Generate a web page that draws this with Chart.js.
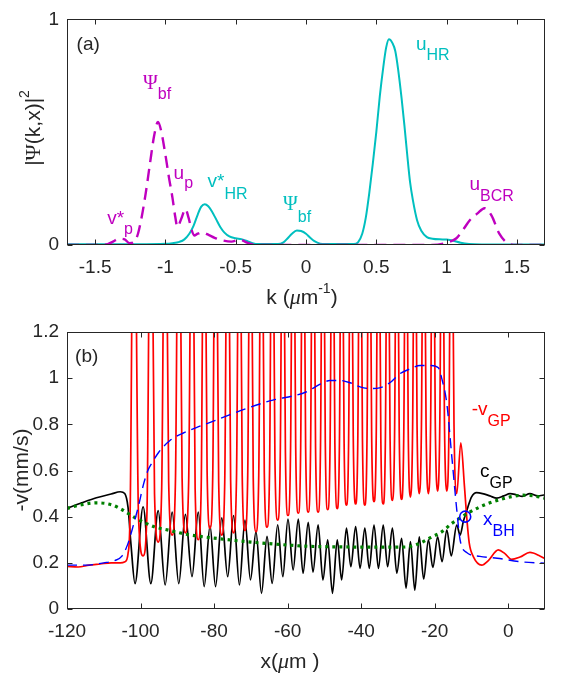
<!DOCTYPE html>
<html lang="en">
<head>
    <meta charset="UTF-8">
    <title>Momentum spectra and velocity profiles</title>
    <style>
        html, body { margin: 0; padding: 0; background: #fff; }
        #wrap { position: relative; width: 563px; height: 673px; }
        canvas { position: absolute; left: 0; }
        #chartA { top: 0; }
        #chartB { top: 310px; }
    </style>
    <script src="https://cdn.jsdelivr.net/npm/chart.js"></script>
</head>
<body>
<div id="wrap">
    <canvas id="chartA" width="563" height="310"></canvas>
    <canvas id="chartB" width="563" height="363"></canvas>
</div>

<script>
// ---- panel (a): |Psi(k,x)|^2 versus k ----
const kTicks = [-1.5, -1, -0.5, 0, 0.5, 1, 1.5];
const psiTicks = [0, 1];

const cyanK = [-1.7, -1.2, -1.0, -0.95, -0.9, -0.865, -0.83, -0.8, -0.77, -0.745,
    -0.72, -0.695, -0.67, -0.64, -0.61, -0.58, -0.545, -0.5, -0.46, -0.42,
    -0.38, -0.34, -0.2, -0.16, -0.13, -0.1, -0.065, -0.035, 0, 0.03,
    0.06, 0.1, 0.14, 0.34, 0.37, 0.4, 0.425, 0.45, 0.475, 0.5,
    0.525, 0.55, 0.57, 0.59, 0.615, 0.635, 0.655, 0.68, 0.7, 0.72,
    0.74, 0.76, 0.79, 0.82, 0.86, 0.9, 0.95, 1.0, 1.05, 1.1,
    1.16, 1.25, 1.7];
const cyanPsi = [0.003, 0.003, 0.005, 0.008, 0.014, 0.025, 0.05, 0.085, 0.135, 0.17,
    0.181, 0.172, 0.15, 0.115, 0.08, 0.055, 0.038, 0.03, 0.026, 0.018,
    0.008, 0.004, 0.004, 0.012, 0.03, 0.05, 0.064, 0.062, 0.05, 0.032,
    0.017, 0.006, 0.004, 0.004, 0.012, 0.05, 0.12, 0.23, 0.36, 0.5,
    0.66, 0.79, 0.875, 0.912, 0.895, 0.86, 0.78, 0.65, 0.53, 0.4,
    0.28, 0.2, 0.11, 0.063, 0.035, 0.028, 0.025, 0.024, 0.019, 0.01,
    0.004, 0.002, 0.002];

const magK = [-1.7, -1.45, -1.41, -1.37, -1.33, -1.29, -1.255, -1.22, -1.195, -1.17,
    -1.14, -1.11, -1.08, -1.053, -1.03, -1.0, -0.975, -0.95, -0.93, -0.915,
    -0.885, -0.858, -0.835, -0.815, -0.795, -0.77, -0.74, -0.69, -0.65, -0.59,
    -0.53, -0.47, -0.42, -0.38, -0.3, 0.9, 1.0, 1.07, 1.12, 1.165,
    1.22, 1.27, 1.32, 1.375, 1.435, 1.5, 1.7];
const magPsi = [0, 0, 0.004, 0.016, 0.028, 0.025, 0.008, 0.015, 0.05, 0.12,
    0.23, 0.36, 0.485, 0.545, 0.505, 0.4, 0.3, 0.21, 0.125, 0.08,
    0.12, 0.16, 0.12, 0.07, 0.042, 0.05, 0.056, 0.044, 0.032, 0.02,
    0.015, 0.024, 0.01, 0.003, 0, 0, 0.01, 0.03, 0.07, 0.11,
    0.14, 0.163, 0.13, 0.05, 0.008, 0, 0];

// ---- panel (b): velocities versus x ----
const xTicks = [-120, -100, -80, -60, -40, -20, 0];
const vTicks = [0, 0.2, 0.4, 0.6, 0.8, 1, 1.2];

// -v_GP (red): flat lead-in, then per cycle: spike, flank, trough, flank; then tail
const redX = [-120, -117, -114, -111, -108, -105.5, -104.2, -103.4, -102.8,
    -101.8, -100.55, -99.3, -98.25,
    -97.2, -96.2, -95.2, -94.25,
    -93.3, -92.35, -91.4, -90.5,
    -89.6, -88.7, -87.8, -86.9,
    -86.0, -85.15, -84.3, -83.5,
    -82.7, -81.9, -81.1, -80.35,
    -79.6, -78.75, -77.9, -77.1,
    -76.3, -75.5, -74.7, -73.9,
    -73.1, -72.35, -71.6, -70.85,
    -70.1, -69.35, -68.6, -67.85,
    -67.1, -66.35, -65.6, -64.9,
    -64.2, -63.45, -62.7, -62.0,
    -61.3, -60.6, -59.9, -59.2,
    -58.5, -57.8, -57.1, -56.45,
    -55.8, -55.1, -54.4, -53.75,
    -53.1, -52.4, -51.7, -51.05,
    -50.4, -49.75, -49.1, -48.45,
    -47.8, -47.15, -46.5, -45.9,
    -45.3, -44.65, -44.0, -43.4,
    -42.8, -42.15, -41.5, -40.9,
    -40.3, -39.65, -39.0, -38.4,
    -37.8, -37.15, -36.5, -35.9,
    -35.3, -34.65, -34.0, -33.4,
    -32.8, -32.15, -31.5, -30.9,
    -30.3, -29.65, -29.0, -28.4,
    -27.8, -27.2, -26.6, -26.0,
    -25.4, -24.8, -24.2, -23.6,
    -23.0, -22.35, -21.7, -21.1,
    -20.5, -19.85, -19.2, -18.6,
    -18.0, -17.35, -16.7, -16.1,
    -15.5, -14.75, -14.0,
    -12.9, -11.9, -11.3, -10.6, -9.5, -7.2, -5.4, -2.7, -0.9, 0.9, 3.2, 5.9, 8.6, 10];
const redV = [0.185, 0.182, 0.19, 0.195, 0.2, 0.2, 0.205, 0.24, 0.45,
    2.2, 0.4, 0.23, 0.42,
    2.2, 0.5, 0.29, 0.52,
    2.2, 0.55, 0.32, 0.56,
    2.2, 0.57, 0.33, 0.56,
    2.2, 0.52, 0.30, 0.53,
    2.2, 0.6, 0.35, 0.59,
    2.2, 0.55, 0.32, 0.55,
    2.2, 0.56, 0.33, 0.57,
    2.2, 0.58, 0.34, 0.58,
    2.2, 0.57, 0.335, 0.58,
    2.2, 0.6, 0.355, 0.61,
    2.2, 0.65, 0.385, 0.66,
    2.2, 0.68, 0.405, 0.69,
    2.2, 0.7, 0.415, 0.7,
    2.2, 0.7, 0.42, 0.7,
    2.2, 0.7, 0.42, 0.71,
    2.2, 0.72, 0.43, 0.72,
    2.2, 0.72, 0.435, 0.73,
    2.2, 0.74, 0.45, 0.74,
    2.2, 0.75, 0.455, 0.75,
    2.2, 0.74, 0.45, 0.75,
    2.2, 0.76, 0.465, 0.75,
    2.2, 0.74, 0.455, 0.75,
    2.2, 0.76, 0.47, 0.77,
    2.2, 0.77, 0.475, 0.77,
    2.2, 0.78, 0.485, 0.79,
    2.2, 0.8, 0.5, 0.8,
    2.2, 0.8, 0.5, 0.81,
    2.2, 0.82, 0.51, 0.82,
    2.2, 0.82, 0.51, 0.81,
    2.2, 0.8, 0.5,
    0.72, 0.53, 0.4, 0.285, 0.227, 0.19, 0.21, 0.256, 0.24, 0.215, 0.225, 0.245, 0.23, 0.218];

// c_GP (black): lead-in, then trough / peak pairs, then tail
const blackX = [-120, -116, -112, -108, -105.5, -104.3, -103.4, -102.6,
    -101.5, -99.3, -97.2, -95.2, -93.3, -91.4, -89.6, -87.8, -86.0, -84.3,
    -82.7, -81.1, -79.6, -77.9, -76.3, -74.7, -73.1, -71.6, -70.1, -68.6,
    -67.1, -65.6, -64.2, -62.7, -61.3, -59.9, -58.5, -57.1, -55.8, -54.4,
    -53.1, -51.7, -50.4, -49.1, -47.8, -46.5, -45.3, -44.0, -42.8, -41.5,
    -40.3, -39.0, -37.8, -36.5, -35.3, -34.0, -32.8, -31.5, -30.3, -29.0,
    -27.8, -26.6, -25.4, -24.2, -23.0, -21.7, -20.5, -19.2, -18.0, -16.7,
    -15.5, -14.0,
    -13.1, -12.2, -11.0, -10.0, -8.6, -7.0, -5.0, -3.1, -1.2, 0.5, 2.2, 3.8, 5.9, 8.0, 10];
const blackV = [0.436, 0.46, 0.482, 0.498, 0.508, 0.5, 0.44, 0.28,
    0.11, 0.443, 0.11, 0.426, 0.104, 0.42, 0.11, 0.41, 0.14, 0.42,
    0.097, 0.36, 0.097, 0.395, 0.14, 0.405, 0.104, 0.385, 0.126, 0.335,
    0.068, 0.315, 0.111, 0.365, 0.14, 0.39, 0.169, 0.39, 0.155, 0.375,
    0.16, 0.365, 0.126, 0.3, 0.068, 0.3, 0.126, 0.35, 0.183, 0.357,
    0.176, 0.35, 0.176, 0.364, 0.176, 0.364, 0.183, 0.35, 0.155, 0.306,
    0.09, 0.292, 0.082, 0.313, 0.13, 0.3, 0.18, 0.313, 0.205, 0.342,
    0.23, 0.364,
    0.32, 0.38, 0.44, 0.485, 0.504, 0.5, 0.49, 0.48, 0.49, 0.5, 0.495, 0.488, 0.5, 0.49, 0.495];

// blue dashed
const blueX = [-120, -115, -110, -107, -105, -103.5, -102, -100.5, -99.2, -98,
    -97, -95, -92, -88, -85, -80, -76, -70, -64, -58,
    -55, -51, -48.5, -45.8, -43, -40.3, -37.6, -35, -32.2, -29.4,
    -26.7, -24, -21, -19, -18.1, -16.7, -15.4, -14, -13.1, -11.3,
    -7.7, -3, 3.2, 10];
const blueV = [0.19, 0.19, 0.2, 0.21, 0.23, 0.28, 0.36, 0.45, 0.54, 0.6,
    0.63, 0.68, 0.73, 0.765, 0.785, 0.815, 0.84, 0.875, 0.905, 0.925,
    0.94, 0.975, 0.99, 0.99, 0.98, 0.962, 0.955, 0.958, 0.98, 1.02,
    1.04, 1.055, 1.055, 1.045, 1.0, 0.89, 0.67, 0.43, 0.3, 0.245,
    0.228, 0.22, 0.205, 0.198];

// green dotted
const greenX = [-120, -116, -112, -108, -105, -102, -99, -96, -92, -88,
    -84, -80, -75, -70, -65, -60, -55, -50, -45, -40,
    -35, -30, -27, -24, -21, -18, -15.4, -13, -11, -8,
    -5, -2, 1, 4, 7, 10];
const greenV = [0.436, 0.452, 0.46, 0.452, 0.43, 0.4, 0.375, 0.355, 0.34, 0.325,
    0.315, 0.307, 0.298, 0.29, 0.283, 0.277, 0.272, 0.27, 0.269, 0.268,
    0.268, 0.268, 0.27, 0.285, 0.31, 0.335, 0.37, 0.395, 0.415, 0.44,
    0.46, 0.475, 0.487, 0.493, 0.49, 0.48];

// horizon marker x_BH
const bhX = [-11.7];
const bhV = [0.4];

// ---- styling helpers ----
const SANS = '"Liberation Sans", Arial, Helvetica, sans-serif';
const SERIF = '"Liberation Serif", "Times New Roman", serif';
const INK = '#262626';
const CYAN = '#00BFBF', MAG = '#BF00BF';
const MAIN = '19px ' + SANS, SUB = '16px ' + SANS, PSI = '20px ' + SERIF;
const TITLE = '21px ' + SANS, SUP = '14px ' + SANS, MU = 'italic 22px ' + SERIF;

function zip(xs, ys) {
    return xs.map((x, i) => ({ x: x, y: ys[i] }));
}

function runText(ctx, x, y, parts) {
    let cx = x;
    parts.forEach(p => {
        ctx.font = p.f;
        ctx.fillStyle = p.c || INK;
        ctx.fillText(p.t, cx, y + (p.dy || 0));
        cx += ctx.measureText(p.t).width;
    });
}

function textWidth(ctx, parts) {
    let w = 0;
    parts.forEach(p => { ctx.font = p.f; w += ctx.measureText(p.t).width; });
    return w;
}

// frame, inward ticks, annotations and axis titles (MATLAB look)
function decor(notes, titles) {
    return {
        id: 'decor',
        afterDraw(chart) {
            const { ctx, chartArea: a, scales } = chart;
            const L = Math.round(a.left) + 0.5, R = Math.round(a.right) - 0.5;
            const T = Math.round(a.top) + 0.5, B = Math.round(a.bottom) - 0.5;
            ctx.save();
            ctx.strokeStyle = INK;
            ctx.lineWidth = 1;
            ctx.strokeRect(L, T, R - L, B - T);
            ctx.beginPath();
            scales.x.ticks.forEach(t => {
                const px = Math.round(scales.x.getPixelForValue(t.value)) + 0.5;
                ctx.moveTo(px, B); ctx.lineTo(px, B - 5);
                ctx.moveTo(px, T); ctx.lineTo(px, T + 5);
            });
            scales.y.ticks.forEach(t => {
                const py = Math.round(scales.y.getPixelForValue(t.value)) + 0.5;
                ctx.moveTo(L, py); ctx.lineTo(L + 5, py);
                ctx.moveTo(R, py); ctx.lineTo(R - 5, py);
            });
            ctx.stroke();

            ctx.textBaseline = 'alphabetic';
            ctx.textAlign = 'left';
            notes.forEach(n => {
                runText(ctx, scales.x.getPixelForValue(n.x), scales.y.getPixelForValue(n.y), n.parts);
            });

            titles.forEach(tl => {
                const w = textWidth(ctx, tl.parts);
                ctx.save();
                ctx.translate(tl.cx, tl.cy);
                if (tl.rotate) ctx.rotate(-Math.PI / 2);
                ctx.textBaseline = 'middle';
                runText(ctx, -w / 2, 0, tl.parts);
                ctx.restore();
            });
            ctx.restore();
        }
    };
}

function axes(xmin, xmax, xt, ymin, ymax, yt, yWidth, xHeight) {
    const tickFont = { family: SANS, size: 19 };
    return {
        x: {
            type: 'linear', min: xmin, max: xmax,
            grid: { display: false, drawTicks: false }, border: { display: false },
            afterBuildTicks: s => { s.ticks = xt.map(v => ({ value: v })); },
            afterFit: s => { s.height = xHeight; },
            ticks: { color: INK, font: tickFont, padding: 11, maxRotation: 0, callback: v => String(v) }
        },
        y: {
            type: 'linear', min: ymin, max: ymax,
            grid: { display: false, drawTicks: false }, border: { display: false },
            afterBuildTicks: s => { s.ticks = yt.map(v => ({ value: v })); },
            afterFit: s => { s.width = yWidth; },
            ticks: { color: INK, font: tickFont, padding: 8, callback: v => String(v) }
        }
    };
}

const lineBase = { pointRadius: 0, cubicInterpolationMode: 'monotone', fill: false, clip: 0 };

// ---- chart (a) ----
new Chart(document.getElementById('chartA'), {
    type: 'line',
    data: {
        datasets: [
            Object.assign({ data: zip(magK, magPsi), borderColor: MAG, borderWidth: 2.4,
                borderDash: [12, 7] }, lineBase),
            Object.assign({ data: zip(cyanK, cyanPsi), borderColor: CYAN, borderWidth: 2 }, lineBase)
        ]
    },
    options: {
        responsive: false, animation: false, events: [],
        layout: { padding: { left: 0, right: 18, top: 6, bottom: 0 } },
        plugins: { legend: { display: false }, tooltip: { enabled: false } },
        scales: axes(-1.7, 1.7, kTicks, 0, 1, psiTicks, 67, 65)
    },
    plugins: [decor([
        { x: -1.632, y: 0.866, parts: [{ t: '(a)', f: MAIN }] },
        { x: -1.159, y: 0.69, parts: [{ t: 'Ψ', f: PSI, c: MAG }, { t: 'bf', f: SUB, c: MAG, dy: 10 }] },
        { x: -0.942, y: 0.293, parts: [{ t: 'u', f: MAIN, c: MAG }, { t: 'p', f: SUB, c: MAG, dy: 9 }] },
        { x: -1.414, y: 0.092, parts: [{ t: 'v*', f: MAIN, c: MAG }, { t: 'p', f: SUB, c: MAG, dy: 10 }] },
        { x: -0.70, y: 0.259, parts: [{ t: 'v*', f: MAIN, c: CYAN }, { t: 'HR', f: SUB, c: CYAN, dy: 12 }] },
        { x: -0.163, y: 0.155, parts: [{ t: 'Ψ', f: PSI, c: CYAN }, { t: 'bf', f: SUB, c: CYAN, dy: 12 }] },
        { x: 0.782, y: 0.866, parts: [{ t: 'u', f: MAIN, c: CYAN }, { t: 'HR', f: SUB, c: CYAN, dy: 10 }] },
        { x: 1.163, y: 0.243, parts: [{ t: 'u', f: MAIN, c: MAG }, { t: 'BCR', f: SUB, c: MAG, dy: 11 }] }
    ], [
        { cx: 34, cy: 128, rotate: true, parts: [
            { t: '|', f: TITLE }, { t: 'Ψ', f: '22px ' + SERIF }, { t: '(k,x)|', f: TITLE },
            { t: '2', f: SUP, dy: -9 }] },
        { cx: 302, cy: 298, parts: [
            { t: 'k (', f: TITLE }, { t: 'μ', f: MU }, { t: 'm', f: TITLE },
            { t: '-1', f: SUP, dy: -9 }, { t: ')', f: TITLE }] }
    ])]
});

// ---- chart (b) ----
new Chart(document.getElementById('chartB'), {
    type: 'line',
    data: {
        datasets: [
            { type: 'scatter', data: zip(bhX, bhV), pointRadius: 5.5, pointBorderColor: '#0000FF',
                pointBackgroundColor: 'rgba(0,0,0,0)', pointBorderWidth: 1.6, showLine: false, clip: 0 },
            Object.assign({ data: zip(blueX, blueV), borderColor: '#0000FF', borderWidth: 1.4,
                borderDash: [10, 6] }, lineBase),
            Object.assign({ data: zip(greenX, greenV), borderColor: '#008000', borderWidth: 3.2,
                borderDash: [3, 4] }, lineBase),
            Object.assign({ data: zip(redX, redV), borderColor: '#FF0000', borderWidth: 1.7 }, lineBase),
            Object.assign({ data: zip(blackX, blackV), borderColor: '#000000', borderWidth: 1.7 }, lineBase)
        ]
    },
    options: {
        responsive: false, animation: false, events: [],
        layout: { padding: { left: 0, right: 18, top: 22, bottom: 0 } },
        plugins: { legend: { display: false }, tooltip: { enabled: false } },
        scales: axes(-120, 10, xTicks, 0, 1.2, vTicks, 67, 64)
    },
    plugins: [decor([
        { x: -117.8, y: 1.07, parts: [{ t: '(b)', f: MAIN }] },
        { x: -9.94, y: 0.84, parts: [{ t: '-v', f: MAIN, c: '#FF0000' }, { t: 'GP', f: SUB, c: '#FF0000', dy: 11 }] },
        { x: -7.68, y: 0.572, parts: [{ t: 'c', f: MAIN, c: '#000000' }, { t: 'GP', f: SUB, c: '#000000', dy: 11 }] },
        { x: -6.86, y: 0.364, parts: [{ t: 'x', f: MAIN, c: '#0000FF' }, { t: 'BH', f: SUB, c: '#0000FF', dy: 11 }] }
    ], [
        { cx: 22, cy: 160, rotate: true, parts: [{ t: '-v(mm/s)', f: TITLE }] },
        { cx: 290, cy: 352, parts: [
            { t: 'x(', f: TITLE }, { t: 'μ', f: MU }, { t: 'm )', f: TITLE }] }
    ])]
});
</script>
</body>
</html>
